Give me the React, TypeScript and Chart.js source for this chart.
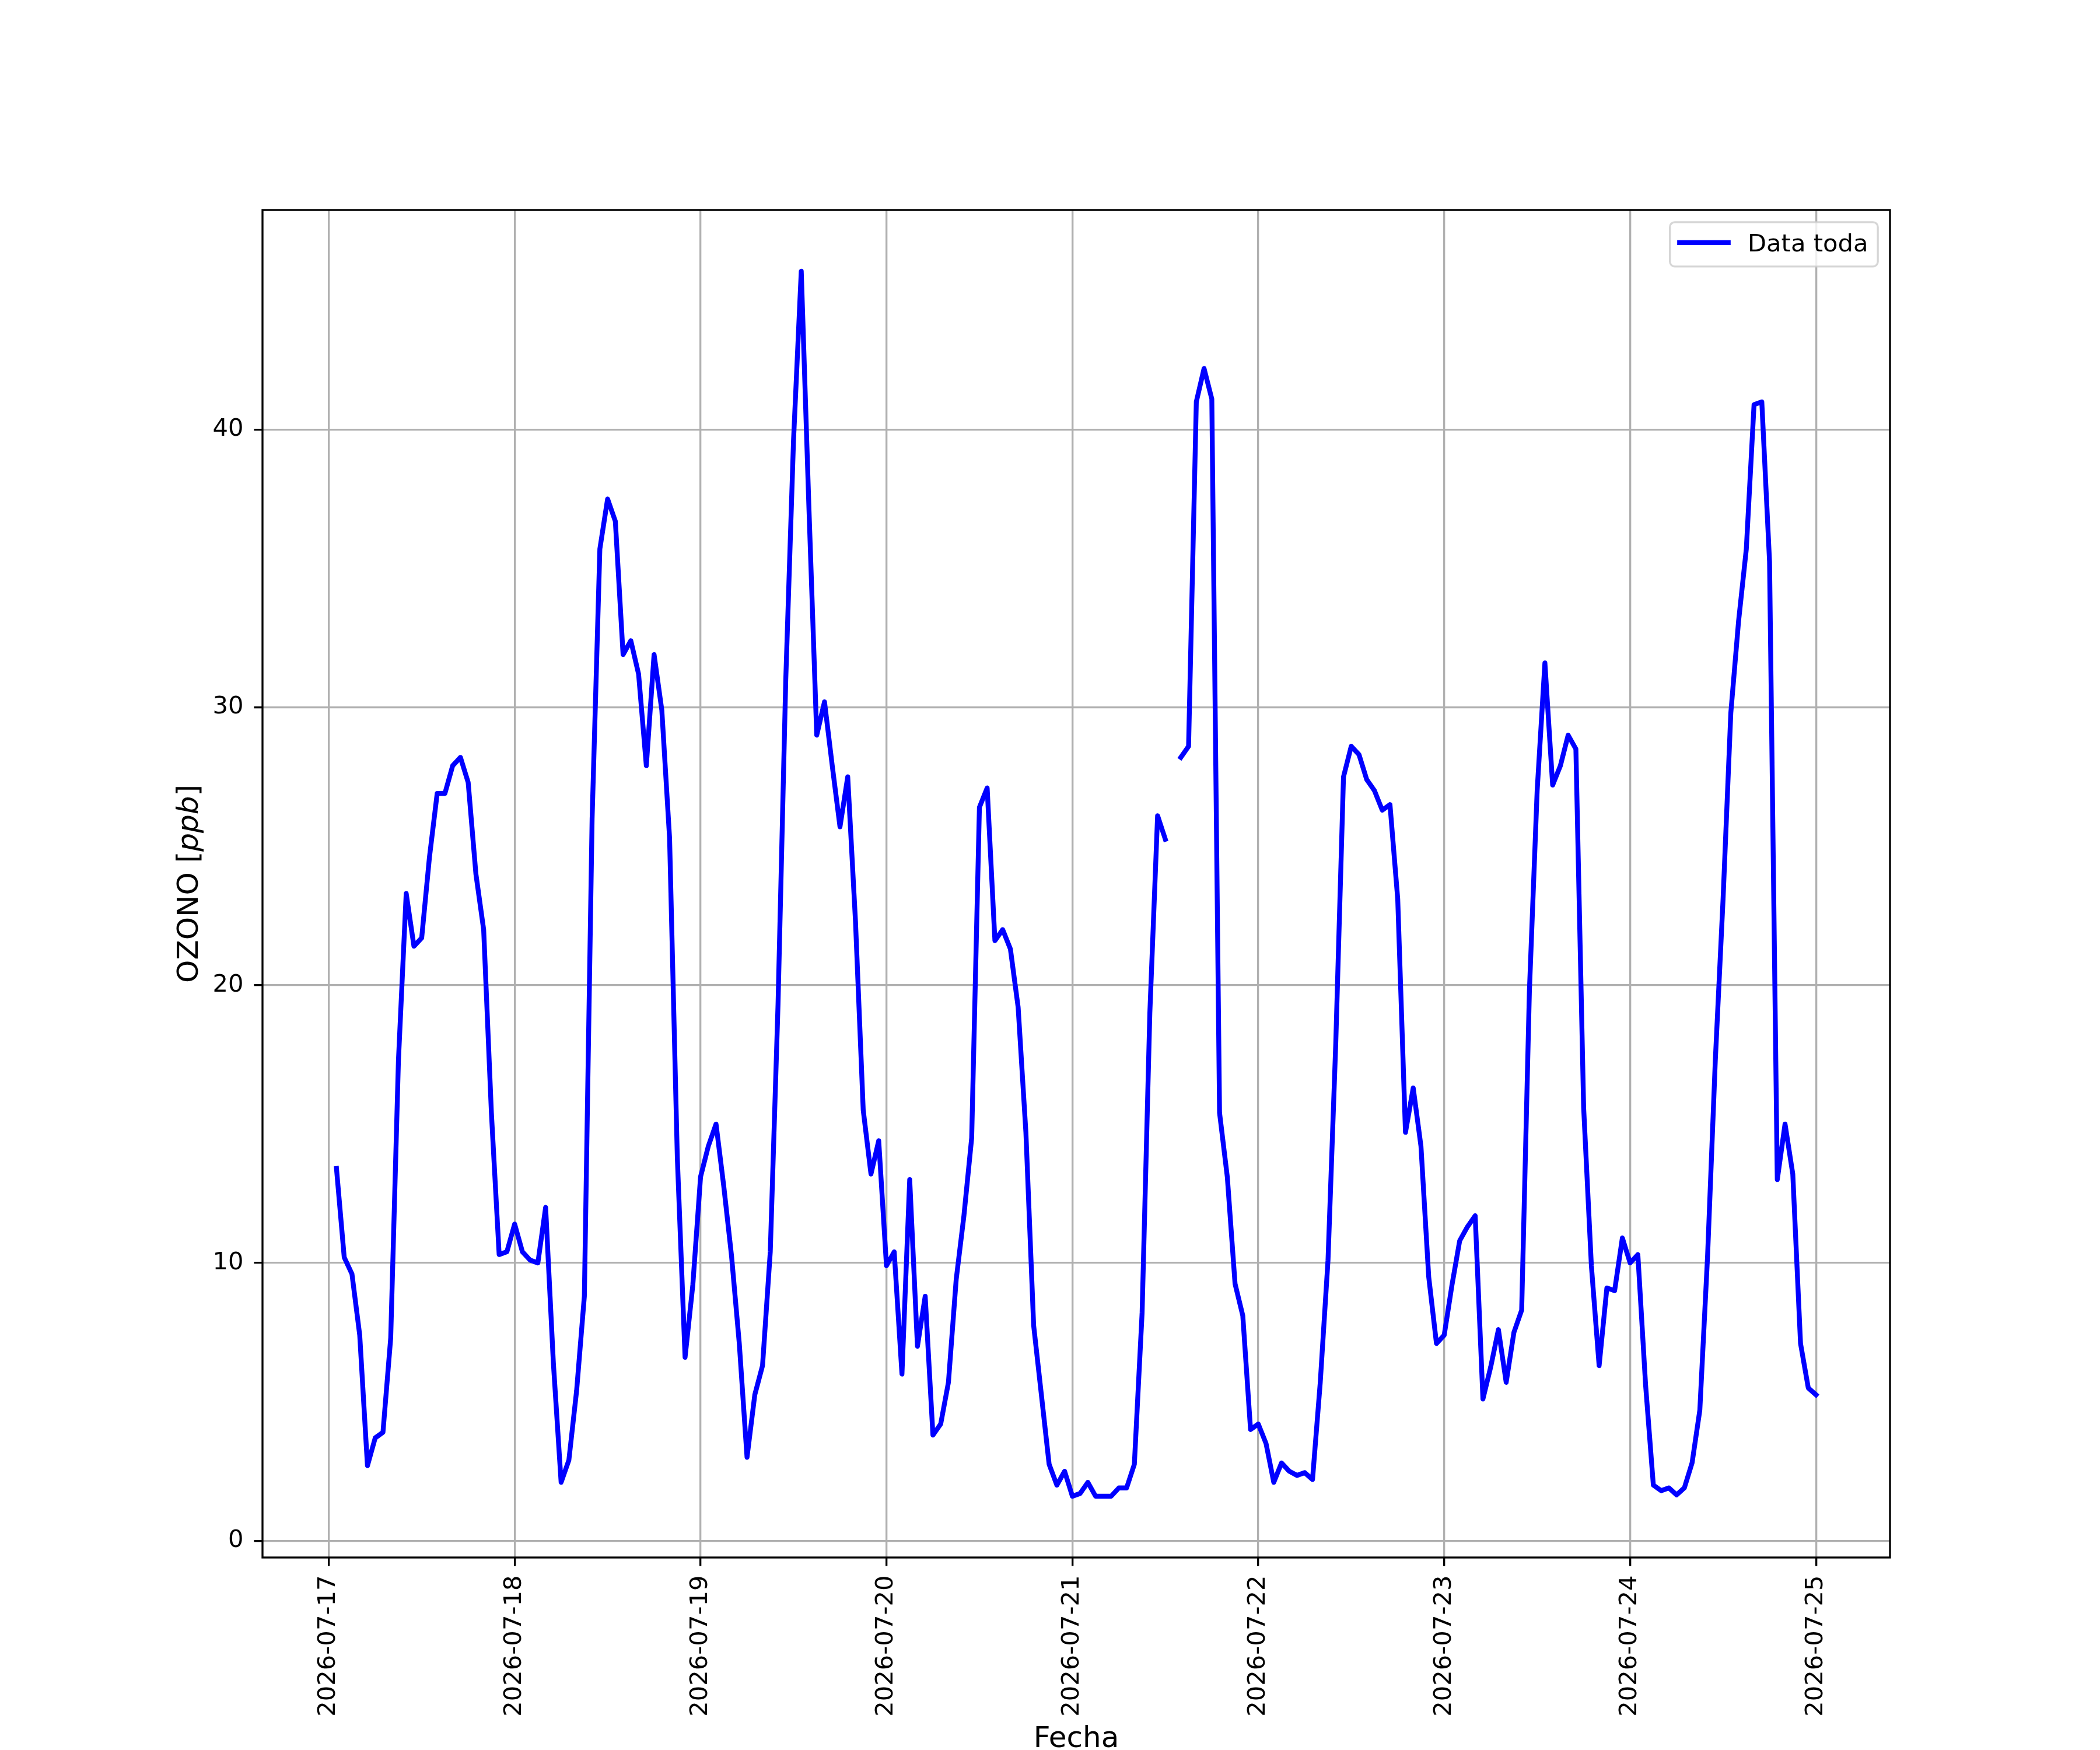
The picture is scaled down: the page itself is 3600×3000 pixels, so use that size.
import React, { useEffect, useRef } from 'react';
import { Chart, registerables } from 'chart.js';

Chart.register(...registerables);

// Tick labels (days) — one tick every 24 h, starting 2026-07-17 00:00
const dateLabels = [
  '2026-07-17', '2026-07-18', '2026-07-19', '2026-07-20', '2026-07-21',
  '2026-07-22', '2026-07-23', '2026-07-24', '2026-07-25',
];

// Hourly ozone [ppb]; each array runs from 01:00 of that day to 00:00 of the next
const firstHour = 1; // hours after 2026-07-17 00:00
const ozone0717 = [13.4, 10.2, 9.6, 7.4, 2.7, 3.7, 3.9, 7.3, 17.3, 23.3, 21.4, 21.7, 24.6, 26.9, 26.9, 27.9, 28.2, 27.3, 24.0, 22.0, 15.4, 10.3, 10.4, 11.4];
const ozone0718 = [10.4, 10.1, 10.0, 12.0, 6.4, 2.1, 2.9, 5.4, 8.8, 26.0, 35.7, 37.5, 36.7, 31.9, 32.4, 31.2, 27.9, 31.9, 29.9, 25.3, 13.8, 6.6, 9.2, 13.1];
const ozone0719 = [14.2, 15.0, 12.75, 10.25, 7.1, 3.0, 5.25, 6.3, 10.4, 19.3, 31.0, 39.6, 45.7, 37.1, 29.0, 30.2, 27.9, 25.7, 27.5, 22.3, 15.5, 13.2, 14.4, 9.9];
const ozone0720 = [10.4, 6.0, 13.0, 7.0, 8.8, 3.8, 4.2, 5.7, 9.4, 11.7, 14.5, 26.4, 27.1, 21.6, 22.0, 21.3, 19.2, 14.7, 7.75, 5.25, 2.75, 2.0, 2.5, 1.6];
const ozone0721: (number | null)[] = [1.7, 2.1, 1.6, 1.6, 1.6, 1.9, 1.9, 2.75, 8.2, 19.0, 26.1, 25.25, null, 28.2, 28.6, 41.0, 42.2, 41.1, 15.4, 13.1, 9.25, 8.1, 4.0, 4.2];
const ozone0722 = [3.5, 2.1, 2.8, 2.5, 2.35, 2.45, 2.2, 5.7, 10.1, 17.9, 27.5, 28.6, 28.3, 27.4, 27.0, 26.3, 26.5, 23.1, 14.7, 16.3, 14.2, 9.5, 7.1, 7.4];
const ozone0723 = [9.2, 10.8, 11.3, 11.7, 5.1, 6.25, 7.6, 5.7, 7.5, 8.3, 19.8, 27.0, 31.6, 27.2, 27.9, 29.0, 28.5, 15.6, 9.9, 6.3, 9.1, 9.0, 10.9, 10.0];
const ozone0724 = [10.3, 5.6, 2.0, 1.8, 1.9, 1.65, 1.9, 2.8, 4.7, 10.25, 17.3, 23.1, 29.8, 33.1, 35.7, 40.9, 41.0, 35.25, 13.0, 15.0, 13.2, 7.1, 5.5, 5.25];

const yTicks = [0, 10, 20, 30, 40];
const seriesLabel = 'Data toda';
const xTitle = 'Fecha';
const yTitleMain = 'OZONO [';
const yTitleItalic = 'ppb';
const yTitleEnd = ']';

const FAMILY = '"DejaVu Sans", sans-serif';
const PT = 300 / 72; // px per point
const FS = 10 * PT;
const LABEL_FS = 12 * PT;

export default function App() {
  const ref = useRef<HTMLCanvasElement>(null);

  useEffect(() => {
    const canvas = ref.current;
    if (!canvas) return;

    const values: (number | null)[] = [
      ...ozone0717, ...ozone0718, ...ozone0719, ...ozone0720,
      ...ozone0721, ...ozone0722, ...ozone0723, ...ozone0724,
    ];
    const points = values.map((v, i) => ({ x: firstHour + i, y: v }));
    const finite = values.filter((v) => v !== null) as number[];
    const yMinD = Math.min(...finite);
    const yMaxD = Math.max(...finite);
    const yPad = 0.05 * (yMaxD - yMinD);
    const xMinD = firstHour;
    const xMaxD = firstHour + values.length - 1;
    const xPad = 0.05 * (xMaxD - xMinD);

    const lw = 0.8 * PT;

    const overlay = {
      id: 'mplOverlay',
      afterDraw(chart: any) {
        const ctx = chart.ctx as CanvasRenderingContext2D;
        const a = chart.chartArea;
        ctx.save();
        // axes frame
        ctx.strokeStyle = '#000';
        ctx.lineWidth = lw;
        ctx.lineJoin = 'miter';
        ctx.strokeRect(a.left, a.top, a.right - a.left, a.bottom - a.top);

        // legend
        ctx.font = `${FS}px ${FAMILY}`;
        const textW = ctx.measureText(seriesLabel).width;
        const pad = 0.4 * FS;
        const handleLen = 2 * FS;
        const handlePad = 0.8 * FS;
        const boxW = pad + handleLen + handlePad + textW + pad;
        const boxH = 76;
        const bx = a.right - 0.5 * FS - boxW;
        const by = a.top + 0.5 * FS;
        const r = 0.2 * FS;
        ctx.beginPath();
        ctx.moveTo(bx + r, by);
        ctx.lineTo(bx + boxW - r, by);
        ctx.arcTo(bx + boxW, by, bx + boxW, by + r, r);
        ctx.lineTo(bx + boxW, by + boxH - r);
        ctx.arcTo(bx + boxW, by + boxH, bx + boxW - r, by + boxH, r);
        ctx.lineTo(bx + r, by + boxH);
        ctx.arcTo(bx, by + boxH, bx, by + boxH - r, r);
        ctx.lineTo(bx, by + r);
        ctx.arcTo(bx, by, bx + r, by, r);
        ctx.closePath();
        ctx.fillStyle = 'rgba(255,255,255,0.8)';
        ctx.fill();
        ctx.strokeStyle = 'rgba(204,204,204,0.8)';
        ctx.lineWidth = lw;
        ctx.stroke();
        const ly = by + 35;
        ctx.beginPath();
        ctx.moveTo(bx + pad, ly);
        ctx.lineTo(bx + pad + handleLen, ly);
        ctx.strokeStyle = '#0000ff';
        ctx.lineWidth = 2 * PT;
        ctx.lineCap = 'square';
        ctx.stroke();
        ctx.fillStyle = '#000';
        ctx.textAlign = 'left';
        ctx.textBaseline = 'alphabetic';
        ctx.fillText(seriesLabel, bx + pad + handleLen + handlePad, by + 50);

        // x title
        ctx.font = `${LABEL_FS}px ${FAMILY}`;
        ctx.textAlign = 'center';
        ctx.fillText(xTitle, (a.left + a.right) / 2, 2995);

        // y title (with italic unit)
        const normal = `${LABEL_FS}px ${FAMILY}`;
        const italic = `italic ${LABEL_FS}px ${FAMILY}`;
        const parts = [
          { t: yTitleMain, f: normal },
          { t: yTitleItalic, f: italic },
          { t: yTitleEnd, f: normal },
        ];
        let total = 0;
        const widths = parts.map((p) => {
          ctx.font = p.f;
          const w = ctx.measureText(p.t).width;
          total += w;
          return w;
        });
        ctx.translate(338.5, (a.top + a.bottom) / 2);
        ctx.rotate(-Math.PI / 2);
        ctx.textAlign = 'left';
        let cx = -total / 2;
        parts.forEach((p, i) => {
          ctx.font = p.f;
          ctx.fillText(p.t, cx, 0);
          cx += widths[i];
        });
        ctx.restore();
      },
    };

    const chart = new Chart(canvas, {
      type: 'line',
      data: {
        datasets: [
          {
            label: seriesLabel,
            data: points as any,
            borderColor: '#0000ff',
            backgroundColor: '#0000ff',
            borderWidth: 2 * PT,
            pointRadius: 0,
            pointHoverRadius: 0,
            tension: 0,
            spanGaps: false,
            borderJoinStyle: 'round',
            borderCapStyle: 'square',
            fill: false,
            clip: 0 as any,
          },
        ],
      },
      options: {
        animation: false,
        responsive: false,
        devicePixelRatio: 1,
        events: [],
        layout: { padding: { left: 0, top: 360, right: 360, bottom: 0 } },
        plugins: {
          legend: { display: false },
          tooltip: { enabled: false },
          title: { display: false },
        },
        scales: {
          x: {
            type: 'linear',
            min: xMinD - xPad,
            max: xMaxD + xPad,
            afterBuildTicks: (s: any) => {
              s.ticks = dateLabels.map((_, i) => ({ value: i * 24 }));
            },
            afterFit: (s: any) => {
              s.height = 330;
            },
            ticks: {
              autoSkip: false,
              minRotation: 90,
              maxRotation: 90,
              padding: 16,
              color: '#000',
              font: { family: FAMILY, size: FS },
              callback: (v: any) => dateLabels[Math.round(Number(v) / 24)] ?? '',
            },
            grid: {
              color: '#b0b0b0',
              lineWidth: lw,
              drawTicks: true,
              tickColor: '#000',
              tickWidth: lw,
              tickLength: 3.5 * PT,
            },
            border: { display: false },
          },
          y: {
            type: 'linear',
            min: yMinD - yPad,
            max: yMaxD + yPad,
            afterBuildTicks: (s: any) => {
              s.ticks = yTicks.map((v) => ({ value: v }));
            },
            afterFit: (s: any) => {
              s.width = 450;
            },
            ticks: {
              autoSkip: false,
              padding: 18,
              color: '#000',
              font: { family: FAMILY, size: FS },
              callback: (v: any) => String(v),
            },
            grid: {
              color: '#b0b0b0',
              lineWidth: lw,
              drawTicks: true,
              tickColor: '#000',
              tickWidth: lw,
              tickLength: 3.5 * PT,
            },
            border: { display: false },
          },
        },
      },
      plugins: [overlay],
    } as any);

    return () => {
      chart.destroy();
    };
  }, []);

  return (
    <div style={{ position: 'absolute', left: 0, top: 0, width: 3600, height: 3000, background: '#fff' }}>
      <canvas ref={ref} width={3600} height={3000} style={{ width: 3600, height: 3000, display: 'block' }} />
    </div>
  );
}
